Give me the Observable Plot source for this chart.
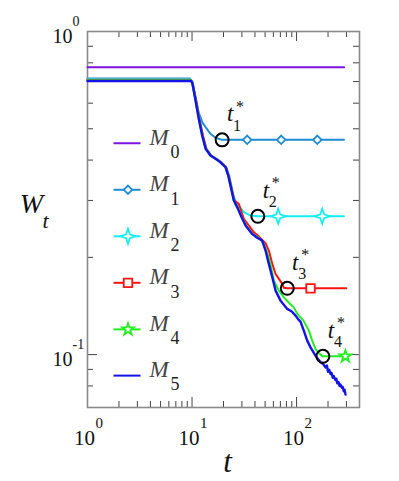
<!DOCTYPE html>
<html>
<head>
<meta charset="utf-8">
<script src="https://cdn.jsdelivr.net/npm/d3@7"></script>
<script src="https://cdn.jsdelivr.net/npm/@observablehq/plot@0.6"></script>
<style>
html,body{margin:0;padding:0;background:#fff;}
</style>
</head>
<body>
<div id="chart"></div>
<script>
// ---------------- data ----------------
const seriesNames = ["0","1","2","3","4","5"];
const seriesColors = ["#7f14e0","#1e8cd2","#14eef2","#ff1414","#22ee22","#1414e6"];

const m0T = [1, 285];
const m0W = [0.775, 0.775];

const m1T = [1, 9.5, 10.1, 10.9, 11.6, 12.05, 12.5, 13.5, 15.0, 16.8, 19.4, 33.7, 71.3, 158, 284];
const m1W = [0.716, 0.716, 0.700, 0.615, 0.560, 0.543, 0.524, 0.5055, 0.4823, 0.4688, 0.462, 0.462, 0.462, 0.462, 0.462];
const m1MarkT = [33.7, 71.3, 158];
const m1MarkW = [0.462, 0.462, 0.462];

const m2T = [1, 9.5, 10.0, 11.0, 11.8, 12.7, 13.8, 15.3, 17.1, 19.1, 21.3, 22.8, 25.0, 26.3, 28.0, 31.3, 36.3, 42.6, 66.8, 176, 284];
const m2W = [0.713, 0.713, 0.700, 0.6115, 0.5366, 0.4765, 0.4334, 0.4131, 0.4036, 0.3938, 0.3801, 0.356, 0.310, 0.297, 0.289, 0.276, 0.2694, 0.268, 0.268, 0.268, 0.268];
const m2MarkT = [66.8, 176];
const m2MarkW = [0.268, 0.268];

const m3T = [1, 9.6, 9.95, 10.95, 11.75, 12.7, 13.7, 15.2, 17.0, 19.0, 21.2, 22.6, 25.4, 28.0, 31.3, 35.0, 39.1, 43.7, 50.5, 54.3, 58.6, 63.0, 67.7, 73.0, 75.6, 81.5, 136, 299];
const m3W = [0.709, 0.709, 0.700, 0.6115, 0.5366, 0.4765, 0.4334, 0.4131, 0.4036, 0.3938, 0.3801, 0.356, 0.300, 0.293, 0.263, 0.2508, 0.239, 0.2319, 0.2212, 0.2099, 0.1909, 0.1777, 0.1715, 0.1655, 0.1610, 0.1604, 0.1604, 0.1604];
const m3MarkT = [136];
const m3MarkW = [0.1604];

const m4T = [1, 9.7, 10.0, 10.8, 11.6, 12.5, 13.5, 15.0, 16.8, 18.7, 20.9, 22.3, 25.1, 27.3, 29.8, 33, 38, 43, 48, 52, 56, 60.6, 67.7, 75.6, 85, 94.1, 101.6, 116.5, 131, 141.2, 151.7, 162, 169.4, 178.6, 300];
const m4W = [0.707, 0.707, 0.695, 0.6115, 0.5366, 0.4765, 0.4334, 0.4131, 0.4036, 0.3938, 0.3801, 0.356, 0.300, 0.286, 0.267, 0.2505, 0.2365, 0.2305, 0.222, 0.208, 0.192, 0.1695, 0.1578, 0.1504, 0.1445, 0.140, 0.1337, 0.1274, 0.1187, 0.1105, 0.1041, 0.1015, 0.1000, 0.0988, 0.0988];
const m4MarkT = [293];
const m4MarkW = [0.0988];

const m5T = [1, 9.8, 10.1, 10.8, 11.6, 12.5, 13.5, 15.0, 16.8, 18.7, 20.9, 22.3, 25.1, 27.3, 29.5, 32.5, 37.6, 42, 46.9, 50.5, 54.3, 58.6, 63.0, 70.3, 81.5, 90, 97.8, 105, 109, 117.3, 126.4, 136, 151.7, 169.4, 180, 189, 195, 200, 205, 211, 216, 222, 227, 235, 240, 245, 252, 258, 263, 270, 276, 283, 288, 294];
const m5W = [0.703, 0.703, 0.690, 0.6115, 0.5366, 0.4765, 0.4334, 0.4131, 0.4036, 0.3938, 0.3801, 0.356, 0.300, 0.284, 0.268, 0.2508, 0.2364, 0.2300, 0.2254, 0.2099, 0.1909, 0.1735, 0.1578, 0.1469, 0.1385, 0.1360, 0.132, 0.128, 0.1265, 0.1187, 0.1105, 0.1053, 0.0993, 0.0947, 0.0935, 0.0913, 0.0925, 0.0885, 0.0898, 0.0871, 0.0878, 0.0848, 0.0858, 0.0835, 0.0842, 0.0815, 0.0822, 0.0800, 0.0808, 0.0790, 0.0795, 0.0770, 0.0778, 0.0752];

const tStarT = [19.4, 42.6, 81.5, 178.6];
const tStarW = [0.462, 0.268, 0.1604, 0.0988];
const tStarIdx = ["1", "2", "3", "4"];

const xMajor = [1, 10, 100];
const xMajorExp = ["0", "1", "2"];
const xMinor = [2,3,4,5,6,7,8,9,20,30,40,50,60,70,80,90,200,300];
const yMajor = [0.1, 1];
const yMajorExp = ["-1", "0"];
const yMinor = [0.08,0.09,0.2,0.3,0.4,0.5,0.6,0.7,0.8,0.9];

// legend layout (in data space)
const legendW = [0.451, 0.3237, 0.2324, 0.1668, 0.1197, 0.0861];
const legendLineT = [1.773, 3.214];
const legendMarkT = 2.44;
const legendTextT = 3.92;

// ---------------- build ----------------
const rows = (T, W) => T.map((t, i) => ({t, W: W[i]}));
const W = 399, H = 481, ML = 87, MR = 40, MT = 31, MB = 74;
const FW = W - ML - MR, FH = H - MT - MB;
const serif = "'Liberation Serif', 'DejaVu Serif', serif";

const sparkle = {
  draw(ctx, size) {
    const R = Math.sqrt(size / Math.PI), r = R * 0.26;
    ctx.moveTo(0, -R); ctx.lineTo(r, -r); ctx.lineTo(R, 0); ctx.lineTo(r, r);
    ctx.lineTo(0, R); ctx.lineTo(-r, r); ctx.lineTo(-R, 0); ctx.lineTo(-r, -r); ctx.closePath();
  }
};

const legendRows = seriesNames.map((n, i) => ({n, W: legendW[i], color: seriesColors[i]}));
const tStars = tStarT.map((t, i) => ({t, W: tStarW[i], k: tStarIdx[i]}));
const tickStroke = "#444";

const lineOpts = (c, w = 2) => ({x: "t", y: "W", stroke: c, strokeWidth: w, curve: "linear"});
const markOpts = (c, sym, r, fill = "white") => ({x: "t", y: "W", symbol: sym, r, stroke: c, fill, strokeWidth: 1.8});
const txt = (o) => Object.assign({fontFamily: serif, fill: "#111", lineAnchor: "middle", textAnchor: "middle"}, o);

const chart = Plot.plot({
  width: W, height: H,
  marginLeft: ML, marginRight: MR, marginTop: MT, marginBottom: MB,
  style: {background: "#fff", overflow: "visible"},
  x: {type: "log", domain: [1, 400], axis: null},
  y: {type: "log", domain: [0.0686, 1], axis: null},
  color: {type: "identity"},
  marks: [
    // ticks (inward)
    Plot.tickX(xMinor, {x: d => d, insetTop: FH - 6, stroke: tickStroke, strokeWidth: 1}),
    Plot.tickX(xMinor, {x: d => d, insetBottom: FH - 6, stroke: tickStroke, strokeWidth: 1}),
    Plot.tickX(xMajor, {x: d => d, insetTop: FH - 10, stroke: tickStroke, strokeWidth: 1}),
    Plot.tickX(xMajor, {x: d => d, insetBottom: FH - 10, stroke: tickStroke, strokeWidth: 1}),
    Plot.tickY(yMinor, {y: d => d, insetRight: FW - 6, stroke: tickStroke, strokeWidth: 1}),
    Plot.tickY(yMinor, {y: d => d, insetLeft: FW - 6, stroke: tickStroke, strokeWidth: 1}),
    Plot.tickY(yMajor, {y: d => d, insetRight: FW - 10, stroke: tickStroke, strokeWidth: 1}),
    Plot.tickY(yMajor, {y: d => d, insetLeft: FW - 10, stroke: tickStroke, strokeWidth: 1}),
    Plot.frame({stroke: "#8a8a8a", strokeWidth: 1.6}),

    // tick labels
    Plot.text(xMajor, txt({x: d => d, frameAnchor: "bottom", dx: -3, dy: 31, text: () => "10", fontSize: 21})),
    Plot.text(xMajor, txt({x: d => d, frameAnchor: "bottom", dx: 8, dy: 16, text: (d, i) => xMajorExp[i], fontSize: 15, textAnchor: "start"})),
    Plot.text(yMajor, txt({y: d => d, frameAnchor: "left", dx: -15, dy: 5, text: () => "10", fontSize: 20, textAnchor: "end"})),
    Plot.text(yMajor, txt({y: d => d, frameAnchor: "left", dx: -15, dy: -10, text: (d, i) => yMajorExp[i], fontSize: 14, textAnchor: "start"})),

    // axis labels
    Plot.text(["W"], txt({frameAnchor: "left", dx: -56, dy: -15, text: d => d, fontSize: 28, fontStyle: "italic"})),
    Plot.text(["t"], txt({frameAnchor: "left", dx: -42, dy: 1, text: d => d, fontSize: 22, fontStyle: "italic"})),
    Plot.text(["t"], txt({frameAnchor: "bottom", dx: 4, dy: 55, text: d => d, fontSize: 31, fontStyle: "italic"})),

    // series lines
    Plot.line(rows(m0T, m0W), lineOpts(seriesColors[0])),
    Plot.line(rows(m1T, m1W), lineOpts(seriesColors[1])),
    Plot.line(rows(m2T, m2W), lineOpts(seriesColors[2])),
    Plot.line(rows(m3T, m3W), lineOpts(seriesColors[3])),
    Plot.line(rows(m4T, m4W), lineOpts(seriesColors[4])),
    Plot.line(rows(m5T, m5W), lineOpts(seriesColors[5], 2.4)),

    // series markers
    Plot.dot(rows(m1MarkT, m1MarkW), markOpts(seriesColors[1], "diamond2", 3.8)),
    Plot.dot(rows(m2MarkT, m2MarkW), markOpts(seriesColors[2], sparkle, 7.5)),
    Plot.dot(rows(m3MarkT, m3MarkW), markOpts(seriesColors[3], "square2", 5.4)),
    Plot.dot(rows(m4MarkT, m4MarkW), markOpts(seriesColors[4], "star", 3.7)),

    // t* circles and labels
    Plot.dot(tStars, {x: "t", y: "W", r: 6.5, stroke: "#000", strokeWidth: 2, fill: "none"}),
    Plot.text(tStars, txt({x: "t", y: "W", dx: 8, dy: -26, text: () => "t", fontSize: 23, fontStyle: "italic"})),
    Plot.text(tStars, txt({x: "t", y: "W", dx: 18, dy: -33, text: () => "*", fontSize: 16})),
    Plot.text(tStars, txt({x: "t", y: "W", dx: 15, dy: -14, text: "k", fontSize: 16})),

    // legend
    Plot.link(legendRows, {x1: () => legendLineT[0], x2: () => legendLineT[1], y1: "W", y2: "W", stroke: "color", strokeWidth: 2}),
    Plot.dot([legendRows[1]], {x: () => legendMarkT, y: "W", symbol: "diamond2", r: 3.8, stroke: "color", fill: "white", strokeWidth: 1.8}),
    Plot.dot([legendRows[2]], {x: () => legendMarkT, y: "W", symbol: sparkle, r: 7.5, stroke: "color", fill: "white", strokeWidth: 1.8}),
    Plot.dot([legendRows[3]], {x: () => legendMarkT, y: "W", symbol: "square2", r: 5.4, stroke: "color", fill: "white", strokeWidth: 1.8}),
    Plot.dot([legendRows[4]], {x: () => legendMarkT, y: "W", symbol: "star", r: 3.7, stroke: "color", fill: "white", strokeWidth: 1.8}),
    Plot.text(legendRows, txt({x: () => legendTextT, y: "W", dy: -6, text: () => "M", fontSize: 23, fontStyle: "italic", fill: "#444", textAnchor: "start"})),
    Plot.text(legendRows, txt({x: () => legendTextT, y: "W", dx: 21, dy: 9, text: "n", fontSize: 18, fill: "#222", textAnchor: "start"}))
  ]
});
document.getElementById("chart").appendChild(chart);
</script>
</body>
</html>
